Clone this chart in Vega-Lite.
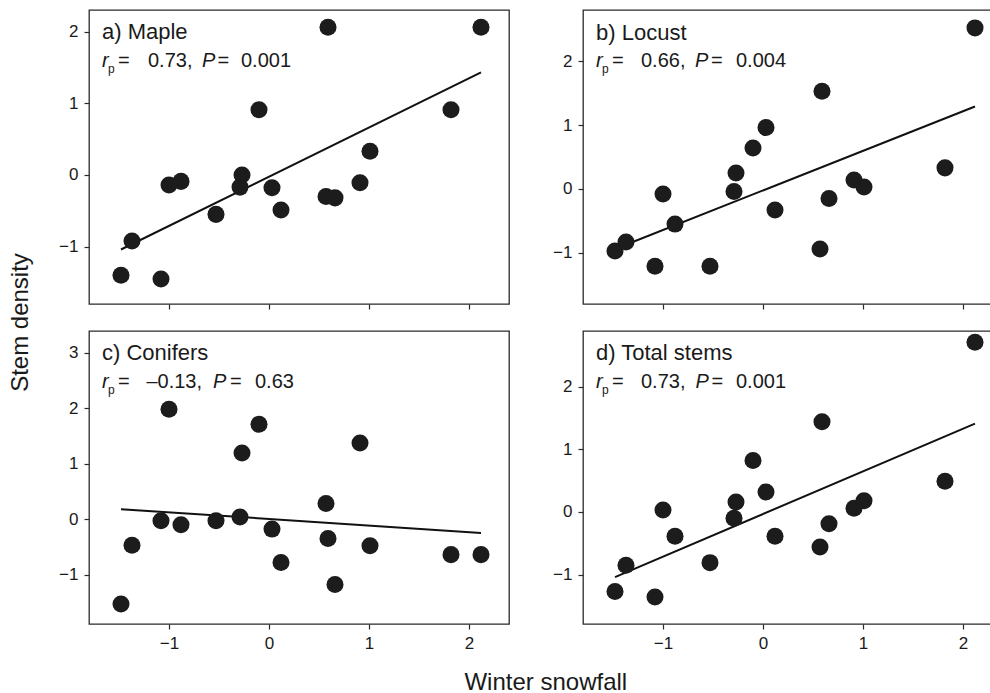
{
  "$schema": "https://vega.github.io/schema/vega-lite/v6.json",
  "background": "white",
  "padding": {"left": 8, "top": 9, "right": 0, "bottom": 0},
  "config": {
    "font": "Liberation Sans",
    "view": {"stroke": "#2a2a2a", "strokeWidth": 1.3},
    "axis": {"grid": false, "domain": false, "tickColor": "#2a2a2a", "tickWidth": 1.2, "tickSize": 5, "labelFontSize": 17, "labelColor": "#1a1a1a", "labelPadding": 6, "labelFont": "Liberation Sans"},
    "text": {"font": "Liberation Sans", "color": "#1a1a1a"},
    "title": {"font": "Liberation Sans", "fontWeight": "normal", "fontSize": 24, "color": "#1a1a1a"}
  },
  "datasets": {
    "points": [
      {"x": -1.48, "maple": -1.40, "locust": -0.97, "conifers": -1.53, "total": -1.27},
      {"x": -1.37, "maple": -0.92, "locust": -0.83, "conifers": -0.47, "total": -0.85},
      {"x": -1.08, "maple": -1.45, "locust": -1.21, "conifers": -0.03, "total": -1.36},
      {"x": -1.00, "maple": -0.14, "locust": -0.08, "conifers": 1.98, "total": 0.03},
      {"x": -0.88, "maple": -0.09, "locust": -0.55, "conifers": -0.10, "total": -0.39},
      {"x": -0.53, "maple": -0.55, "locust": -1.21, "conifers": -0.03, "total": -0.81},
      {"x": -0.29, "maple": -0.17, "locust": -0.04, "conifers": 0.04, "total": -0.10},
      {"x": -0.27, "maple": 0.00, "locust": 0.25, "conifers": 1.19, "total": 0.16},
      {"x": -0.10, "maple": 0.91, "locust": 0.64, "conifers": 1.71, "total": 0.82},
      {"x": 0.03, "maple": -0.18, "locust": 0.96, "conifers": -0.18, "total": 0.32},
      {"x": 0.12, "maple": -0.49, "locust": -0.33, "conifers": -0.78, "total": -0.39},
      {"x": 0.57, "maple": -0.30, "locust": -0.94, "conifers": 0.28, "total": -0.56},
      {"x": 0.59, "maple": 2.06, "locust": 1.53, "conifers": -0.35, "total": 1.44},
      {"x": 0.66, "maple": -0.32, "locust": -0.15, "conifers": -1.18, "total": -0.19},
      {"x": 0.91, "maple": -0.11, "locust": 0.14, "conifers": 1.37, "total": 0.06},
      {"x": 1.01, "maple": 0.33, "locust": 0.03, "conifers": -0.48, "total": 0.18},
      {"x": 1.82, "maple": 0.91, "locust": 0.33, "conifers": -0.64, "total": 0.49},
      {"x": 2.12, "maple": 2.06, "locust": 2.52, "conifers": -0.64, "total": 2.71}
    ],
    "fits": [
      {"x": -1.48, "maple": -1.04, "locust": -0.94, "conifers": 0.18, "total": -1.04},
      {"x": 2.12, "maple": 1.43, "locust": 1.29, "conifers": -0.25, "total": 1.41}
    ],
    "titles": [
      {"panel": "a", "x": -1.67, "y": 1.89, "text": "a) Maple"},
      {"panel": "b", "x": -1.67, "y": 2.338, "text": "b) Locust"},
      {"panel": "c", "x": -1.67, "y": 2.86, "text": "c) Conifers"},
      {"panel": "d", "x": -1.67, "y": 2.424, "text": "d) Total stems"}
    ],
    "statItalic": [
      {"panel": "a", "x": -1.67, "y": 1.507, "text": "r"},
      {"panel": "a", "x": -0.67, "y": 1.507, "text": "P"},
      {"panel": "b", "x": -1.67, "y": 1.912, "text": "r"},
      {"panel": "b", "x": -0.68, "y": 1.912, "text": "P"},
      {"panel": "c", "x": -1.67, "y": 2.356, "text": "r"},
      {"panel": "c", "x": -0.56, "y": 2.356, "text": "P"},
      {"panel": "d", "x": -1.67, "y": 1.978, "text": "r"},
      {"panel": "d", "x": -0.675, "y": 1.978, "text": "P"}
    ],
    "statSub": [
      {"panel": "a", "x": -1.67, "y": 1.507, "text": "p"},
      {"panel": "b", "x": -1.67, "y": 1.912, "text": "p"},
      {"panel": "c", "x": -1.67, "y": 2.356, "text": "p"},
      {"panel": "d", "x": -1.67, "y": 1.978, "text": "p"}
    ],
    "statPlain": [
      {"panel": "a", "x": -1.51, "y": 1.507, "text": "="},
      {"panel": "a", "x": -1.21, "y": 1.507, "text": "0.73,"},
      {"panel": "a", "x": -0.515, "y": 1.507, "text": "="},
      {"panel": "a", "x": -0.28, "y": 1.507, "text": "0.001"},
      {"panel": "b", "x": -1.51, "y": 1.912, "text": "="},
      {"panel": "b", "x": -1.22, "y": 1.912, "text": "0.66,"},
      {"panel": "b", "x": -0.52, "y": 1.912, "text": "="},
      {"panel": "b", "x": -0.27, "y": 1.912, "text": "0.004"},
      {"panel": "c", "x": -1.51, "y": 2.356, "text": "="},
      {"panel": "c", "x": -1.226, "y": 2.356, "text": "–0.13,"},
      {"panel": "c", "x": -0.39, "y": 2.356, "text": "="},
      {"panel": "c", "x": -0.14, "y": 2.356, "text": "0.63"},
      {"panel": "d", "x": -1.51, "y": 1.978, "text": "="},
      {"panel": "d", "x": -1.22, "y": 1.978, "text": "0.73,"},
      {"panel": "d", "x": -0.515, "y": 1.978, "text": "="},
      {"panel": "d", "x": -0.27, "y": 1.978, "text": "0.001"}
    ]
  },
  "title": {"text": "Winter snowfall", "orient": "bottom", "anchor": "middle", "offset": 19, "dx": 45},
  "vconcat": [
    {
      "title": {"text": "Stem density", "orient": "left", "anchor": "middle", "offset": 25, "dx": 8},
      "spacing": 19,
      "vconcat": [
        {
          "spacing": 41,
          "hconcat": [
            {
              "width": 420, "height": 294,
              "encoding": {"x": {"field": "x", "type": "quantitative", "title": null, "scale": {"domain": [-1.8, 2.4], "nice": false, "zero": false}, "axis": {"values": [-1, 0, 1, 2], "labels": false, "title": null}}},
              "layer": [
                {"data": {"name": "fits"}, "mark": {"type": "line", "color": "#111", "strokeWidth": 2}, "encoding": {"y": {"field": "maple", "type": "quantitative", "title": null, "scale": {"domain": [-1.8, 2.3], "nice": false, "zero": false}, "axis": {"values": [-1, 0, 1, 2], "format": "d", "title": null}}}},
                {"data": {"name": "points"}, "mark": {"type": "circle", "size": 290, "color": "#1c1c1c", "opacity": 1}, "encoding": {"y": {"field": "maple", "type": "quantitative", "title": null}}},
                {"data": {"name": "titles"}, "transform": [{"filter": "datum.panel === 'a'"}], "mark": {"type": "text", "align": "left", "baseline": "alphabetic", "fontSize": 22}, "encoding": {"y": {"field": "y", "type": "quantitative", "title": null}, "text": {"field": "text", "type": "nominal"}}},
                {"data": {"name": "statItalic"}, "transform": [{"filter": "datum.panel === 'a'"}], "mark": {"type": "text", "align": "left", "baseline": "alphabetic", "fontSize": 20, "fontStyle": "italic"}, "encoding": {"y": {"field": "y", "type": "quantitative", "title": null}, "text": {"field": "text", "type": "nominal"}}},
                {"data": {"name": "statSub"}, "transform": [{"filter": "datum.panel === 'a'"}], "mark": {"type": "text", "align": "left", "baseline": "alphabetic", "fontSize": 12, "dx": 6, "dy": 6}, "encoding": {"y": {"field": "y", "type": "quantitative", "title": null}, "text": {"field": "text", "type": "nominal"}}},
                {"data": {"name": "statPlain"}, "transform": [{"filter": "datum.panel === 'a'"}], "mark": {"type": "text", "align": "left", "baseline": "alphabetic", "fontSize": 20}, "encoding": {"y": {"field": "y", "type": "quantitative", "title": null}, "text": {"field": "text", "type": "nominal"}}}
              ]
            },
            {
              "width": 409, "height": 294,
              "encoding": {"x": {"field": "x", "type": "quantitative", "title": null, "scale": {"domain": [-1.8, 2.29], "nice": false, "zero": false}, "axis": {"values": [-1, 0, 1, 2], "labels": false, "title": null}}},
              "layer": [
                {"data": {"name": "fits"}, "mark": {"type": "line", "color": "#111", "strokeWidth": 2}, "encoding": {"y": {"field": "locust", "type": "quantitative", "title": null, "scale": {"domain": [-1.8, 2.8], "nice": false, "zero": false}, "axis": {"values": [-1, 0, 1, 2], "format": "d", "title": null}}}},
                {"data": {"name": "points"}, "mark": {"type": "circle", "size": 290, "color": "#1c1c1c", "opacity": 1}, "encoding": {"y": {"field": "locust", "type": "quantitative", "title": null}}},
                {"data": {"name": "titles"}, "transform": [{"filter": "datum.panel === 'b'"}], "mark": {"type": "text", "align": "left", "baseline": "alphabetic", "fontSize": 22}, "encoding": {"y": {"field": "y", "type": "quantitative", "title": null}, "text": {"field": "text", "type": "nominal"}}},
                {"data": {"name": "statItalic"}, "transform": [{"filter": "datum.panel === 'b'"}], "mark": {"type": "text", "align": "left", "baseline": "alphabetic", "fontSize": 20, "fontStyle": "italic"}, "encoding": {"y": {"field": "y", "type": "quantitative", "title": null}, "text": {"field": "text", "type": "nominal"}}},
                {"data": {"name": "statSub"}, "transform": [{"filter": "datum.panel === 'b'"}], "mark": {"type": "text", "align": "left", "baseline": "alphabetic", "fontSize": 12, "dx": 6, "dy": 6}, "encoding": {"y": {"field": "y", "type": "quantitative", "title": null}, "text": {"field": "text", "type": "nominal"}}},
                {"data": {"name": "statPlain"}, "transform": [{"filter": "datum.panel === 'b'"}], "mark": {"type": "text", "align": "left", "baseline": "alphabetic", "fontSize": 20}, "encoding": {"y": {"field": "y", "type": "quantitative", "title": null}, "text": {"field": "text", "type": "nominal"}}}
              ]
            }
          ]
        },
        {
          "spacing": 41,
          "hconcat": [
            {
              "width": 420, "height": 293,
              "encoding": {"x": {"field": "x", "type": "quantitative", "title": null, "scale": {"domain": [-1.8, 2.4], "nice": false, "zero": false}, "axis": {"values": [-1, 0, 1, 2], "format": "d", "title": null}}},
              "layer": [
                {"data": {"name": "fits"}, "mark": {"type": "line", "color": "#111", "strokeWidth": 2}, "encoding": {"y": {"field": "conifers", "type": "quantitative", "title": null, "scale": {"domain": [-1.89, 3.39], "nice": false, "zero": false}, "axis": {"values": [-1, 0, 1, 2, 3], "format": "d", "title": null}}}},
                {"data": {"name": "points"}, "mark": {"type": "circle", "size": 290, "color": "#1c1c1c", "opacity": 1}, "encoding": {"y": {"field": "conifers", "type": "quantitative", "title": null}}},
                {"data": {"name": "titles"}, "transform": [{"filter": "datum.panel === 'c'"}], "mark": {"type": "text", "align": "left", "baseline": "alphabetic", "fontSize": 22}, "encoding": {"y": {"field": "y", "type": "quantitative", "title": null}, "text": {"field": "text", "type": "nominal"}}},
                {"data": {"name": "statItalic"}, "transform": [{"filter": "datum.panel === 'c'"}], "mark": {"type": "text", "align": "left", "baseline": "alphabetic", "fontSize": 20, "fontStyle": "italic"}, "encoding": {"y": {"field": "y", "type": "quantitative", "title": null}, "text": {"field": "text", "type": "nominal"}}},
                {"data": {"name": "statSub"}, "transform": [{"filter": "datum.panel === 'c'"}], "mark": {"type": "text", "align": "left", "baseline": "alphabetic", "fontSize": 12, "dx": 6, "dy": 6}, "encoding": {"y": {"field": "y", "type": "quantitative", "title": null}, "text": {"field": "text", "type": "nominal"}}},
                {"data": {"name": "statPlain"}, "transform": [{"filter": "datum.panel === 'c'"}], "mark": {"type": "text", "align": "left", "baseline": "alphabetic", "fontSize": 20}, "encoding": {"y": {"field": "y", "type": "quantitative", "title": null}, "text": {"field": "text", "type": "nominal"}}}
              ]
            },
            {
              "width": 409, "height": 293,
              "encoding": {"x": {"field": "x", "type": "quantitative", "title": null, "scale": {"domain": [-1.8, 2.29], "nice": false, "zero": false}, "axis": {"values": [-1, 0, 1, 2], "format": "d", "title": null}}},
              "layer": [
                {"data": {"name": "fits"}, "mark": {"type": "line", "color": "#111", "strokeWidth": 2}, "encoding": {"y": {"field": "total", "type": "quantitative", "title": null, "scale": {"domain": [-1.79, 2.89], "nice": false, "zero": false}, "axis": {"values": [-1, 0, 1, 2], "format": "d", "title": null}}}},
                {"data": {"name": "points"}, "mark": {"type": "circle", "size": 290, "color": "#1c1c1c", "opacity": 1}, "encoding": {"y": {"field": "total", "type": "quantitative", "title": null}}},
                {"data": {"name": "titles"}, "transform": [{"filter": "datum.panel === 'd'"}], "mark": {"type": "text", "align": "left", "baseline": "alphabetic", "fontSize": 22}, "encoding": {"y": {"field": "y", "type": "quantitative", "title": null}, "text": {"field": "text", "type": "nominal"}}},
                {"data": {"name": "statItalic"}, "transform": [{"filter": "datum.panel === 'd'"}], "mark": {"type": "text", "align": "left", "baseline": "alphabetic", "fontSize": 20, "fontStyle": "italic"}, "encoding": {"y": {"field": "y", "type": "quantitative", "title": null}, "text": {"field": "text", "type": "nominal"}}},
                {"data": {"name": "statSub"}, "transform": [{"filter": "datum.panel === 'd'"}], "mark": {"type": "text", "align": "left", "baseline": "alphabetic", "fontSize": 12, "dx": 6, "dy": 6}, "encoding": {"y": {"field": "y", "type": "quantitative", "title": null}, "text": {"field": "text", "type": "nominal"}}},
                {"data": {"name": "statPlain"}, "transform": [{"filter": "datum.panel === 'd'"}], "mark": {"type": "text", "align": "left", "baseline": "alphabetic", "fontSize": 20}, "encoding": {"y": {"field": "y", "type": "quantitative", "title": null}, "text": {"field": "text", "type": "nominal"}}}
              ]
            }
          ]
        }
      ]
    }
  ]
}
